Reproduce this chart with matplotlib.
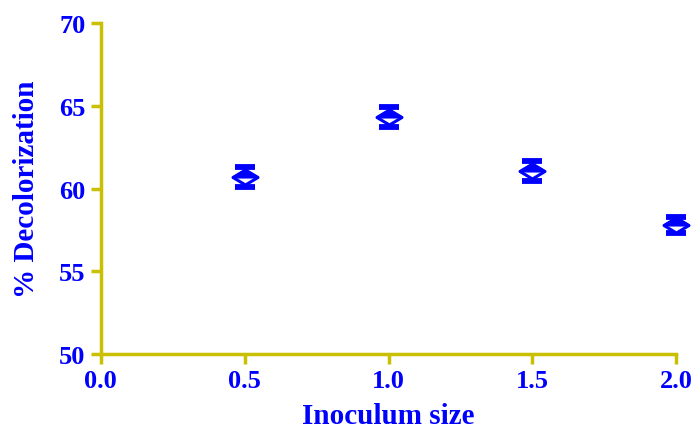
import matplotlib
matplotlib.use("Agg")
import matplotlib.pyplot as plt
from matplotlib.path import Path

inoculum = [0.5, 1.0, 1.5, 2.0]
decolorization = [60.72, 64.35, 61.06, 57.8]
errors = [0.6, 0.6, 0.6, 0.48]
xticks = [0.0, 0.5, 1.0, 1.5, 2.0]
yticks = [50, 55, 60, 65, 70]

blue = "#0000ff"
axis_col = "#c8c000"

plt.rcParams['font.family'] = ['Liberation Serif', 'DejaVu Serif']
plt.rcParams['font.weight'] = 'bold'

fig = plt.figure(figsize=(6.95, 4.31), dpi=100)
ax = fig.add_axes([0.145, 0.176, 0.828, 0.768])

diamond = Path([(-1, 0), (0, 0.6), (1, 0), (0, -0.6), (-1, 0)],
               [Path.MOVETO, Path.LINETO, Path.LINETO, Path.LINETO, Path.CLOSEPOLY])
top_half = Path([(-1, 0), (0, 0.6), (1, 0), (-1, 0)],
                [Path.MOVETO, Path.LINETO, Path.LINETO, Path.CLOSEPOLY])

ax.errorbar(inoculum, decolorization, yerr=errors, fmt='none', ecolor=blue,
            elinewidth=2.5, capsize=7.5, capthick=4.2, clip_on=False, zorder=3)
ax.plot(inoculum, decolorization, linestyle='none', marker=diamond, markersize=18,
        markerfacecolor='white', markeredgecolor=blue, markeredgewidth=2.2,
        clip_on=False, zorder=4)
ax.plot(inoculum, decolorization, linestyle='none', marker=top_half, markersize=18,
        markerfacecolor=blue, markeredgecolor=blue, markeredgewidth=1.5,
        clip_on=False, zorder=5)

ax.set_xlim(0, 2.0)
ax.set_ylim(50, 70)
ax.set_xticks(xticks)
ax.set_xticklabels([f"{t:.1f}" for t in xticks])
ax.set_yticks(yticks)

for s in ['top', 'right']:
    ax.spines[s].set_visible(False)
for s in ['left', 'bottom']:
    ax.spines[s].set_color(axis_col)
    ax.spines[s].set_linewidth(2.5)

ax.tick_params(axis='both', colors=axis_col, width=2.5, length=7, direction='out',
               labelcolor=blue, labelsize=19, pad=4)
for lab in ax.get_xticklabels() + ax.get_yticklabels():
    lab.set_fontweight('bold')

ax.set_xlabel("Inoculum size", color=blue, fontsize=21, fontweight='bold', labelpad=7)
ax.set_ylabel("% Decolorization", color=blue, fontsize=21, fontweight='bold', labelpad=14)

fig.savefig("out.png", dpi=100)
